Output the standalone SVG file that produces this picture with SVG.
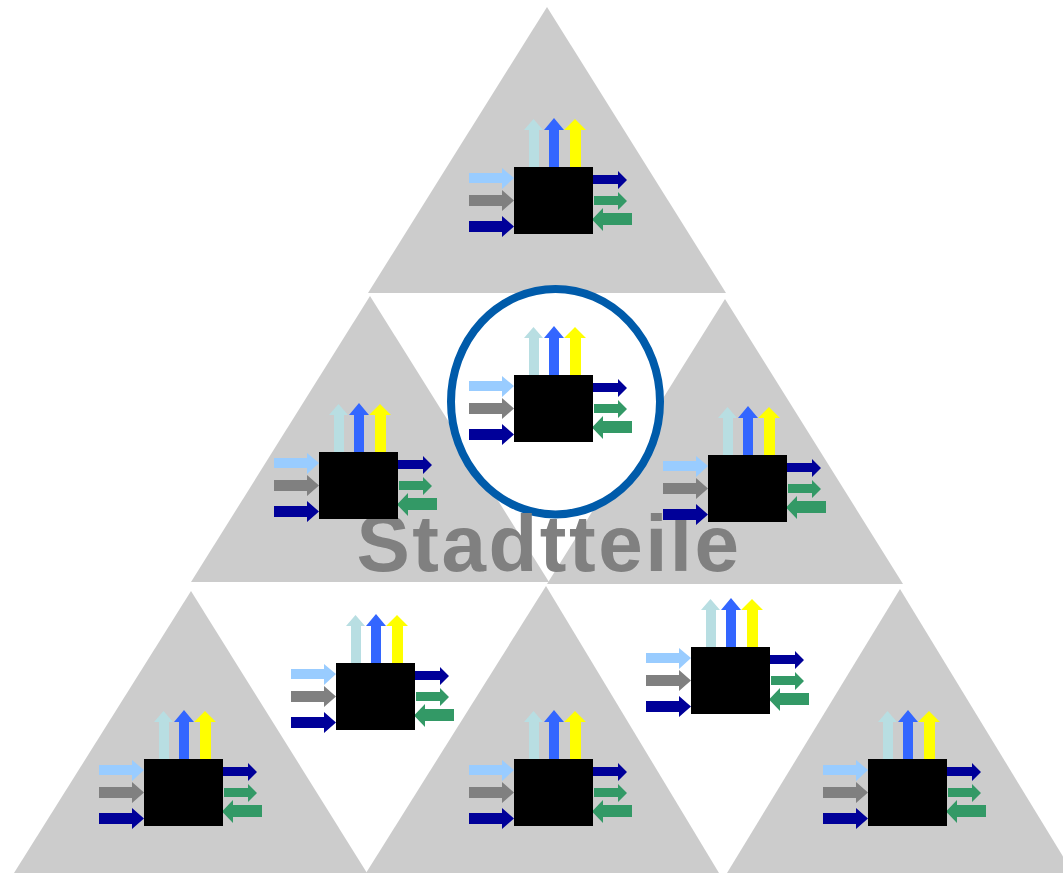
<svg xmlns="http://www.w3.org/2000/svg" xmlns:xlink="http://www.w3.org/1999/xlink" width="1063" height="874" viewBox="0 0 1063 874">
  <style>
    .tri { fill: #cccccc; }
    .ring { fill: #ffffff; stroke: #005baa; stroke-width: 8; }
    .label { font-family: "Liberation Sans", Arial, sans-serif; font-weight: bold; font-size: 80px; letter-spacing: 2.5px; fill: #808080; }
    .box { fill: #000000; }
    .c-cyan { fill: #b8dee2; }
    .c-blue { fill: #3366ff; }
    .c-yellow { fill: #ffff00; }
    .c-sky { fill: #99ccff; }
    .c-gray { fill: #808080; }
    .c-navy { fill: #000099; }
    .c-green { fill: #339966; }
  </style>
  <defs>
    <!-- one district unit: black block with its input / output arrows, origin at block's top-left -->
    <g id="unit">
      <!-- outputs pointing up -->
      <polygon class="c-cyan" points="15,0 15,-37 10,-37 19.5,-48 29,-37 25,-37 25,0"/>
      <polygon class="c-blue" points="35,0 35,-37 30,-37 40,-49 50,-37 45,-37 45,0"/>
      <polygon class="c-yellow" points="56,0 56,-37 50,-37 61,-48 72,-37 67,-37 67,0"/>
      <!-- inputs from the left -->
      <polygon class="c-sky" points="-45,6 -12,6 -12,1 0,11 -12,22 -12,16 -45,16"/>
      <polygon class="c-gray" points="-45,28 -12,28 -12,23 0,33.5 -12,44 -12,39 -45,39"/>
      <polygon class="c-navy" points="-45,54 -12,54 -12,49 0,59.5 -12,70 -12,65 -45,65"/>
      <!-- exchanges on the right -->
      <polygon class="c-navy" points="79,8 104,8 104,4 113,13 104,22 104,17 79,17"/>
      <polygon class="c-green" points="80,29 104,29 104,25 113,34 104,43 104,38 80,38"/>
      <polygon class="c-green" points="118,46 89,46 89,41 78,52.5 89,64 89,58 118,58"/>
      <rect class="box" x="0" y="0" width="79" height="67"/>
    </g>
  </defs>

  <!-- district triangles -->
  <g id="triangles">
    <polygon id="tri-top" class="tri" points="547,7 368,293 726,293"/>
    <polygon id="tri-mid-left" class="tri" points="370,296 191,582 549,582"/>
    <polygon id="tri-mid-right" class="tri" points="725,299 547,584 903,584"/>
    <polygon id="tri-bottom-left" class="tri" points="191,591 14,873 367,873"/>
    <polygon id="tri-bottom-center" class="tri" points="546,586 366,873 719,873"/>
    <polygon id="tri-bottom-right" class="tri" points="900,589 727,873 1073,873"/>
  </g>

  <!-- highlighted centre district -->
  <ellipse id="focus-ring" class="ring" cx="555.5" cy="401.7" rx="104.5" ry="112.7"/>

  <text id="title" class="label" x="356.5" y="571">Stadtteile</text>

  <!-- district units -->
  <g id="node-top" transform="translate(514,167)"><use xlink:href="#unit" href="#unit"/></g>
  <g id="node-center" transform="translate(514,375)"><use xlink:href="#unit" href="#unit"/></g>
  <g id="node-mid-left" transform="translate(319,452)"><use xlink:href="#unit" href="#unit"/></g>
  <g id="node-mid-right" transform="translate(708,455)"><use xlink:href="#unit" href="#unit"/></g>
  <g id="node-gap-left" transform="translate(336,663)"><use xlink:href="#unit" href="#unit"/></g>
  <g id="node-gap-right" transform="translate(691,647)"><use xlink:href="#unit" href="#unit"/></g>
  <g id="node-bottom-left" transform="translate(144,759)"><use xlink:href="#unit" href="#unit"/></g>
  <g id="node-bottom-center" transform="translate(514,759)"><use xlink:href="#unit" href="#unit"/></g>
  <g id="node-bottom-right" transform="translate(868,759)"><use xlink:href="#unit" href="#unit"/></g>

  <!-- no connectors between districts -->
  <g id="connectors"/>
</svg>
